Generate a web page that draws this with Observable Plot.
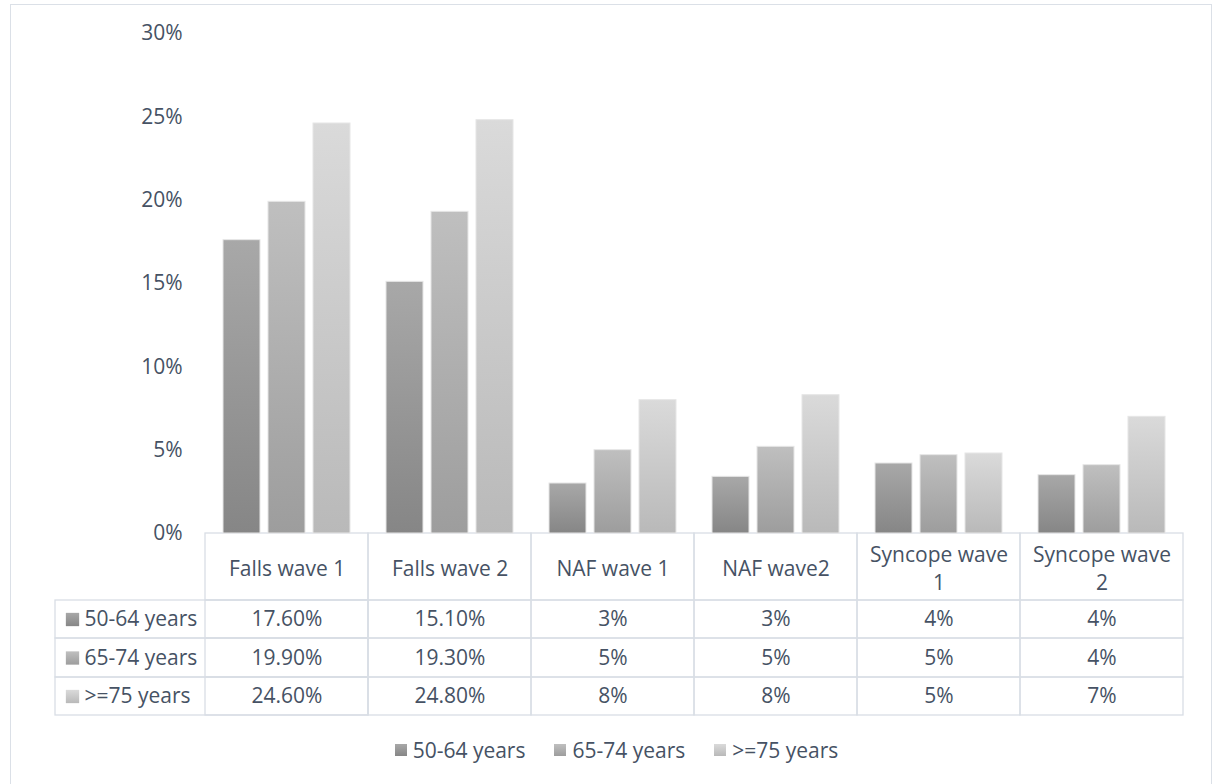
<!DOCTYPE html>
<html>
<head>
<meta charset="utf-8">
<script src="https://cdn.jsdelivr.net/npm/d3@7"></script>
<script src="https://cdn.jsdelivr.net/npm/@observablehq/plot@0.6"></script>
<style>
  html, body { margin: 0; padding: 0; background: #fff; }
  body { position: relative; width: 1217px; height: 784px; overflow: hidden; font-family: "Open Sans", sans-serif; }
  #border { position: absolute; left: 10px; top: 4px; width: 1202px; height: 800px; border: 1px solid #dbe0e7; box-sizing: border-box; pointer-events: none; }
  #chart { position: relative; }
  #legend { display: flex; justify-content: center; align-items: center; height: 40px; gap: 29px; padding-left: 16px;
            font-size: 21px; color: #465264; font-family: "Open Sans", sans-serif; }
  #legend .item { display: flex; align-items: center; }
  #legend .sw { width: 12px; height: 12px; margin-right: 6px; }
</style>
</head>
<body>
<div id="border"></div>
<svg id="defs" width="0" height="0" style="position:absolute"></svg>
<div id="chart"></div>
<div id="legend"></div>
<script>
// ---- data ----
const categories = ["Falls wave 1", "Falls wave 2", "NAF wave 1", "NAF wave2", "Syncope wave 1", "Syncope wave 2"];
const series = ["50-64 years", "65-74 years", ">=75 years"];
const values50to64 = [17.6, 15.1, 3.0, 3.4, 4.2, 3.5];
const values65to74 = [19.9, 19.3, 5.0, 5.2, 4.7, 4.1];
const values75plus = [24.6, 24.8, 8.0, 8.3, 4.8, 7.0];
const tableDecimals = [2, 2, 0, 0, 0, 0];
const yTicks = [0, 5, 10, 15, 20, 25, 30];

// ---- styles ----
const gradientStops = [["#a8a8a8", "#868686"], ["#bfbfbf", "#9d9d9d"], ["#dadada", "#b9b9b9"]];
const textColor = "#465264";
const lineColor = "#d9dee5";

const seriesValues = [values50to64, values65to74, values75plus];
const data = [];
series.forEach((s, si) => categories.forEach((c, ci) => data.push({
  category: c, series: s, value: seriesValues[si][ci],
  label: tableDecimals[ci] ? seriesValues[si][ci].toFixed(tableDecimals[ci]) + "%" : Math.round(seriesValues[si][ci]) + "%"
})));

// gradient defs
const defs = d3.select("#defs").append("defs");
gradientStops.forEach((st, i) => {
  const g = defs.append("linearGradient").attr("id", "g" + i).attr("x1", 0).attr("y1", 0).attr("x2", 0).attr("y2", 1);
  g.append("stop").attr("offset", "0%").attr("stop-color", st[0]);
  g.append("stop").attr("offset", "100%").attr("stop-color", st[1]);
});
const gradUrls = series.map((s, i) => `url(#g${i})`);

const wrap = (t) => t.length > 12 ? t.replace(/ (\S+)$/, "\n$1") : t;

// table geometry (relative to bottom of plot frame)
const rowEdges = [67, 105, 144, 182];
const rowCenters = [86, 124.5, 163];
const frameH = 500;

const marks = [
  Plot.axisY({ticks: yTicks, tickFormat: d => d + "%", tickSize: 0, tickPadding: 23, fill: textColor, label: null}),
  // header cells
  Plot.rect(categories, {fx: d => d, insetTop: frameH, insetBottom: -rowEdges[0], fill: "none", stroke: lineColor, strokeWidth: 1.3}),
  Plot.text(categories, {fx: d => d, text: wrap, frameAnchor: "bottom", lineAnchor: "middle", dy: rowEdges[0] / 2, lineHeight: 1.33, fill: textColor})
];
for (let r = 0; r < 3; r++) {
  const top = rowEdges[r];
  const bot = rowEdges[r + 1];
  marks.push(Plot.rect(categories, {fx: d => d, insetTop: frameH + top, insetBottom: -bot, fill: "none", stroke: lineColor, strokeWidth: 1.3}));
  marks.push(Plot.rect([categories[0]], {fx: d => d, insetLeft: -150, insetTop: frameH + top, insetBottom: -bot, fill: "none", stroke: lineColor, strokeWidth: 1.3}));
  marks.push(Plot.text(data.filter(d => d.series === series[r]), {fx: "category", text: "label", frameAnchor: "bottom", lineAnchor: "middle", dy: rowCenters[r], fill: textColor}));
  marks.push(Plot.dot([series[r]], {fx: () => categories[0], frameAnchor: "bottom-left", dx: -133, dy: rowCenters[r], symbol: "square", r: 7.5, fill: gradUrls[r], stroke: "none"}));
  marks.push(Plot.text([series[r]], {fx: () => categories[0], text: d => d, frameAnchor: "bottom-left", lineAnchor: "middle", textAnchor: "start", dx: -121, dy: rowCenters[r], fill: textColor}));
}
marks.push(Plot.barY(data, {fx: "category", x: "series", y: "value", fill: "series", stroke: "#e6e6e6", strokeWidth: 1}));

const plot = Plot.plot({
  width: 1217,
  height: 730,
  marginTop: 33,
  marginBottom: 197,
  marginLeft: 204,
  marginRight: 34,
  style: {fontFamily: "'Open Sans', sans-serif", fontSize: "21px", color: textColor, background: "transparent", overflow: "visible"},
  fx: {domain: categories, padding: 0, axis: null},
  x: {domain: series, paddingInner: 0.178, paddingOuter: 0.4, axis: null},
  y: {domain: [0, 30], axis: null},
  color: {domain: series, range: gradUrls},
  marks
});
document.getElementById("chart").appendChild(plot);

// legend
const legend = d3.select("#legend");
series.forEach((s, i) => {
  const it = legend.append("div").attr("class", "item");
  it.append("div").attr("class", "sw").style("background", `linear-gradient(${gradientStops[i][0]}, ${gradientStops[i][1]})`);
  it.append("span").text(s);
});
</script>
</body>
</html>
